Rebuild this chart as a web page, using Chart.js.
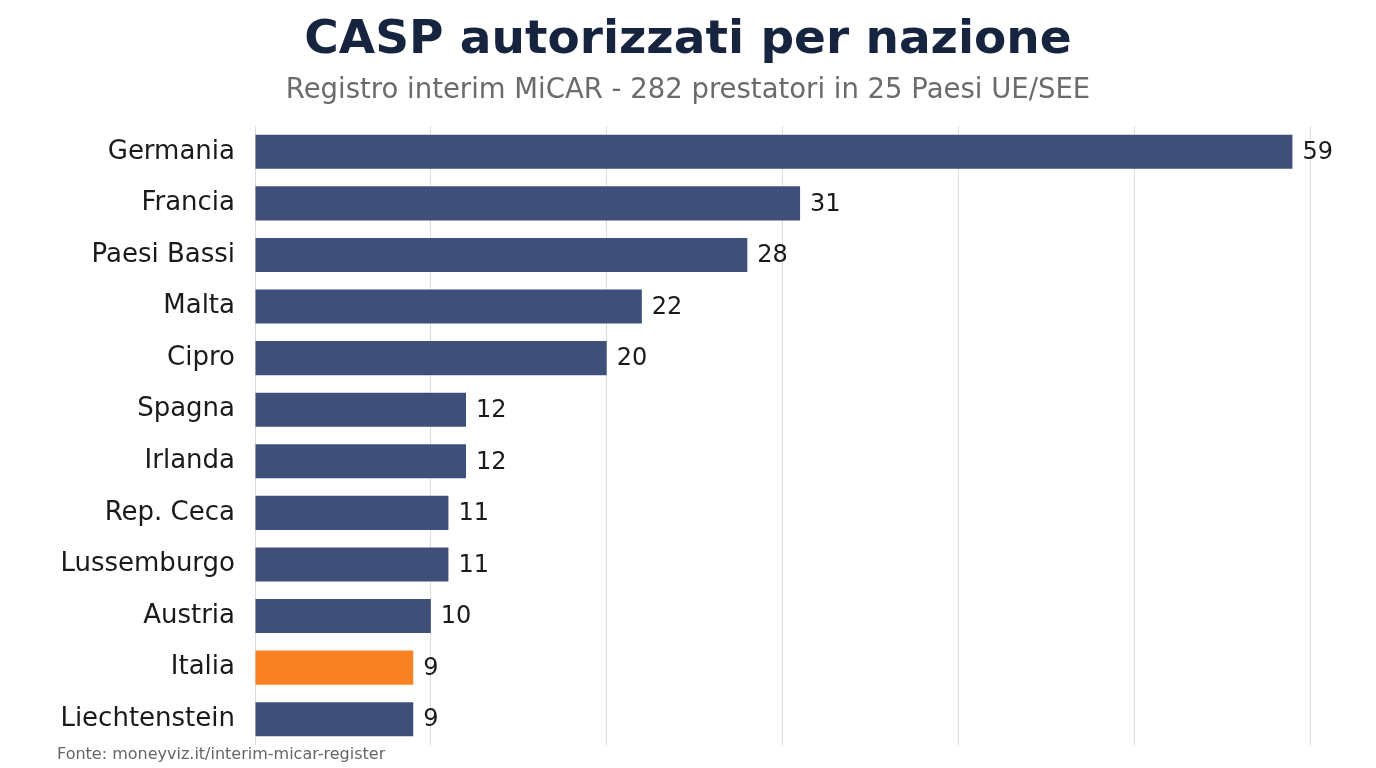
<!DOCTYPE html>
<html><head><meta charset="utf-8">
<script src="https://cdn.jsdelivr.net/npm/chart.js@4.4.1/dist/chart.umd.min.js"></script>
<style>
html,body{margin:0;padding:0;background:#fff;width:1376px;height:768px;overflow:hidden;font-family:"DejaVu Sans",sans-serif;}
#wrap{position:absolute;left:0;top:0;width:1376px;height:768px;}
#title{position:absolute;left:0;width:1376px;top:9px;text-align:center;font-size:47px;font-weight:bold;color:#16243f;}
#sub{position:absolute;left:0;width:1376px;top:72px;text-align:center;font-size:27.5px;color:#6b6b6b;}
#foot{position:absolute;left:57px;top:744px;font-size:16px;color:#666;}
canvas{position:absolute;left:0;top:0;}
</style></head>
<body><div id="wrap">
<canvas id="c" width="1376" height="768"></canvas>
<div id="title">CASP autorizzati per nazione</div>
<div id="sub">Registro interim MiCAR - 282 prestatori in 25 Paesi UE/SEE</div>
<div id="foot">Fonte: moneyviz.it/interim-micar-register</div>
</div>
<script>
const categories = ["Germania","Francia","Paesi Bassi","Malta","Cipro","Spagna","Irlanda","Rep. Ceca","Lussemburgo","Austria","Italia","Liechtenstein"];
const values = [59,31,28,22,20,12,12,11,11,10,9,9];
const highlight = "Italia";
const baseColor = "#3e4f7a";
const hlColor = "#fb8125";
const colors = categories.map(c => c === highlight ? hlColor : baseColor);
const FONT = '"DejaVu Sans", sans-serif';

const valueLabels = {
  id: 'valueLabels',
  afterDatasetsDraw(chart) {
    const ctx = chart.ctx;
    const meta = chart.getDatasetMeta(0);
    ctx.save();
    ctx.font = '24px ' + FONT;
    ctx.fillStyle = '#1a1a1a';
    ctx.textBaseline = 'middle';
    ctx.textAlign = 'left';
    meta.data.forEach((bar, i) => {
      ctx.fillText(String(values[i]), bar.x + 10, bar.y + 1);
    });
    ctx.restore();
  }
};

new Chart(document.getElementById('c'), {
  type: 'bar',
  data: { labels: categories, datasets: [{ data: values, backgroundColor: colors, borderWidth: 0, barPercentage: 0.66, categoryPercentage: 1.0 }] },
  options: {
    indexAxis: 'y',
    responsive: false,
    animation: false,
    layout: { padding: { top: 126, bottom: 23, right: 66, left: 0 } },
    plugins: { legend: { display: false }, tooltip: { enabled: false }, title: { display: false } },
    scales: {
      x: {
        min: 0, max: 60,
        ticks: { display: false, stepSize: 10 },
        grid: { color: '#dcdcdc', lineWidth: 1, drawTicks: false },
        border: { display: false },
        afterFit(s) { s.height = 0; }
      },
      y: {
        ticks: { color: '#1a1a1a', font: { size: 26, family: FONT }, padding: 20 },
        grid: { display: false, drawTicks: false },
        border: { display: false },
        afterFit(s) { s.width = 255; s.paddingTop = 0; s.paddingBottom = 0; }
      }
    }
  },
  plugins: [valueLabels]
});
</script>
</body></html>
